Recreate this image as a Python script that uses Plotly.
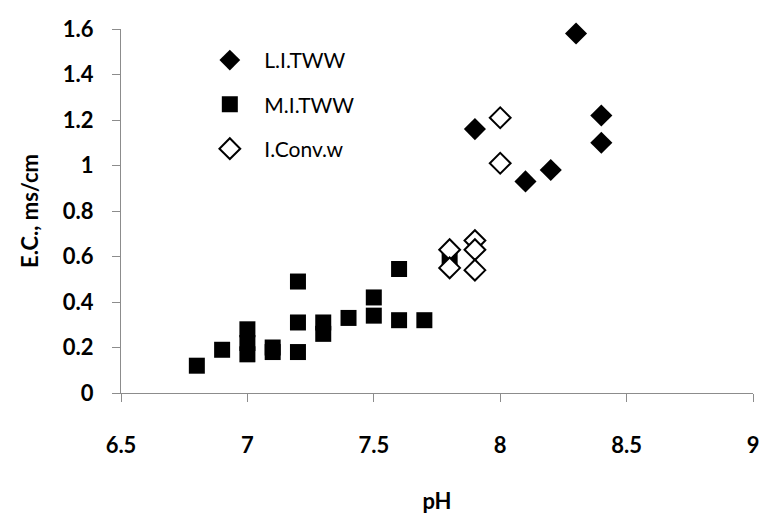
import plotly.graph_objects as go

# L.I.TWW (filled diamonds)
li_ph = [8.3, 8.4, 8.4, 7.9, 8.1, 8.2]
li_ec = [1.58, 1.22, 1.10, 1.16, 0.93, 0.98]

# M.I.TWW (filled squares)
mi_ph = [6.8, 6.9, 7.0, 7.0, 7.0, 7.1, 7.1, 7.2, 7.2, 7.2, 7.3, 7.3, 7.4, 7.5, 7.5, 7.6, 7.6, 7.7, 7.8]
mi_ec = [0.12, 0.19, 0.28, 0.22, 0.17, 0.20, 0.18, 0.49, 0.31, 0.18, 0.31, 0.26, 0.33, 0.42, 0.34, 0.545, 0.32, 0.32, 0.59]

# I.Conv.w (open diamonds)
ic_ph = [8.0, 8.0, 7.8, 7.8, 7.9, 7.9, 7.9]
ic_ec = [1.21, 1.01, 0.63, 0.55, 0.67, 0.63, 0.54]

x_ticks = [6.5, 7, 7.5, 8, 8.5, 9]
y_ticks = [0, 0.2, 0.4, 0.6, 0.8, 1, 1.2, 1.4, 1.6]

FONT = "Lato"

fig = go.Figure()
fig.add_trace(go.Scatter(x=li_ph, y=li_ec, mode="markers", name="L.I.TWW",
                         legendgroup="a", cliponaxis=False,
                         marker=dict(symbol="diamond", size=17, color="black",
                                     line=dict(width=0))))
fig.add_trace(go.Scatter(x=mi_ph, y=mi_ec, mode="markers", name="M.I.TWW",
                         legendgroup="b", cliponaxis=False,
                         marker=dict(symbol="square", size=16, color="black",
                                     line=dict(width=0))))
fig.add_trace(go.Scatter(x=ic_ph, y=ic_ec, mode="markers", name="I.Conv.w",
                         legendgroup="c", cliponaxis=False,
                         marker=dict(symbol="diamond", size=16, color="white",
                                     line=dict(width=2, color="black"))))

axis_common = dict(showgrid=False, zeroline=False, showline=True,
                   linecolor="#8c8c8c", linewidth=1, ticks="outside",
                   tickcolor="#8c8c8c", ticklen=8,
                   tickfont=dict(family=FONT, size=22, color="black", weight="bold"))

fig.update_xaxes(range=[6.5, 9], tickvals=x_ticks, ticktext=[str(v) for v in x_ticks],
                 ticklabelstandoff=25,
                 title=dict(text="<b>pH</b>", font=dict(family=FONT, size=22, color="black"),
                            standoff=36),
                 **axis_common)
fig.update_yaxes(range=[0, 1.6], tickvals=y_ticks, ticktext=[f"{v:g}" for v in y_ticks],
                 ticklabelstandoff=14,
                 title=dict(text="<b>E.C., ms/cm</b>", font=dict(family=FONT, size=22, color="black"),
                            standoff=18),
                 **axis_common)

fig.update_layout(
    width=767, height=525,
    margin=dict(l=121, r=8, t=29, b=132),
    plot_bgcolor="white", paper_bgcolor="white",
    showlegend=True,
    legend=dict(x=0.1176, y=0.97, xanchor="left", yanchor="top",
                bgcolor="rgba(0,0,0,0)", tracegroupgap=14,
                font=dict(family=FONT, size=21, color="black"),
                itemwidth=59),
)

fig.write_html("out.html")
